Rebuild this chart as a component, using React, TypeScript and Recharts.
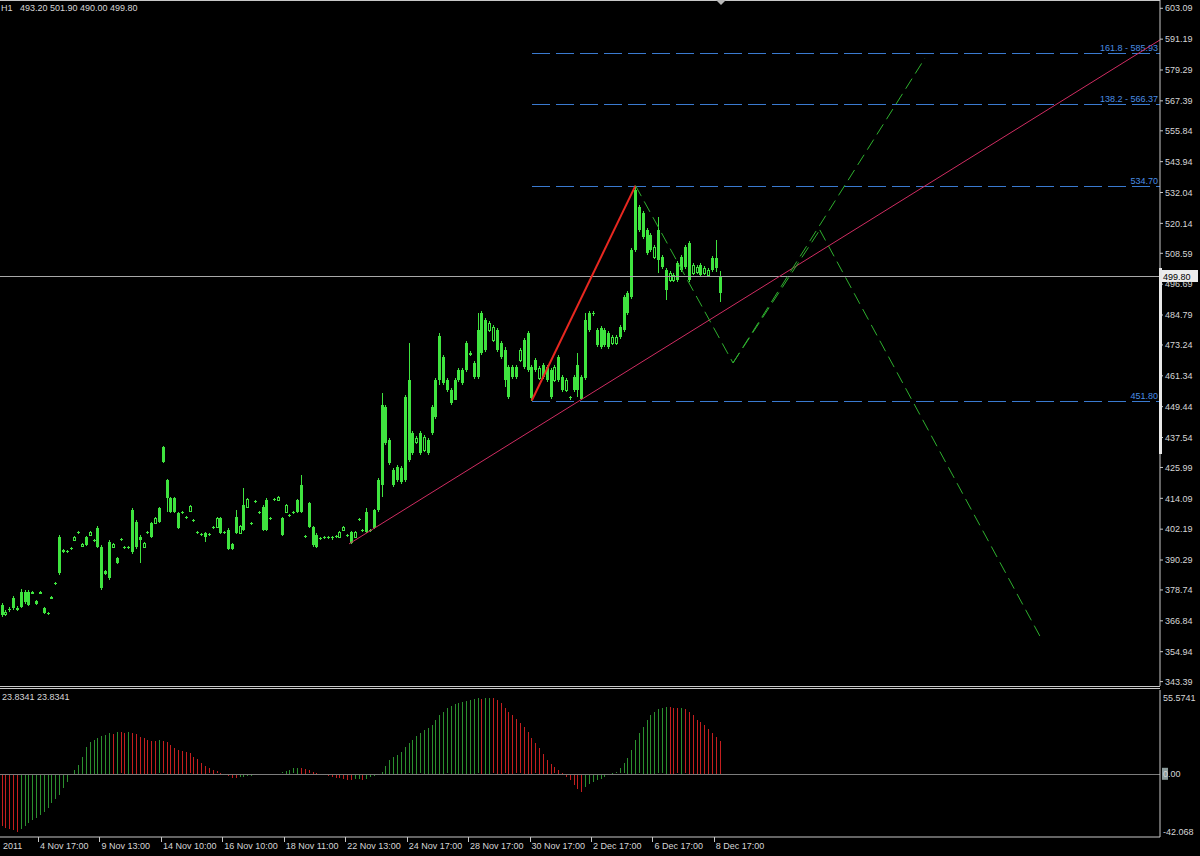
import React from 'react';
import { ComposedChart, BarChart, Bar, XAxis, YAxis, ReferenceLine } from 'recharts';

// hourly candles (bar index = position in the arrays)
const highs = [
  373.7, 371.1, 372.2, 376.4, 372.6, 379.1, 378.7, 378.7, 378.3, 374.9,
  378.3, 372.2, 370.2, 376.4, 381.8, 399.9, 394.5, 394.2, 395.3, 399.6,
  401.5, 396.9, 399.6, 401.5, 398.4, 403.4, 396.1, 386.4, 398.0, 396.9,
  391.5, 398.8, 395.7, 395.7, 410.4, 405.7, 399.9, 397.2, 401.5, 405.0,
  406.9, 410.7, 434.3, 421.5, 414.6, 414.6, 408.8, 409.2, 407.3, 411.5,
  406.1, 401.5, 400.7, 401.1, 400.7, 403.4, 406.9, 406.9, 401.5, 402.7,
  396.9, 409.6, 403.8, 418.1, 414.2, 405.0, 413.4, 409.2, 411.5, 414.2,
  406.9, 414.2, 415.0, 406.9, 411.9, 408.0, 409.2, 413.8, 423.1, 399.9,
  412.7, 403.4, 400.7, 399.2, 399.6, 399.6, 399.6, 399.9, 401.5, 403.4,
  400.3, 401.5, 401.5, 406.5, 402.3, 410.4, 402.3, 410.0, 421.9, 454.7,
  450.1, 437.4, 425.8, 426.9, 426.5, 453.9, 474.0, 440.1, 438.1, 440.1,
  438.5, 437.4, 450.1, 460.5, 477.9, 469.4, 460.5, 456.6, 460.5, 464.4,
  464.4, 474.8, 470.9, 467.1, 485.6, 486.3, 483.6, 482.5, 480.9, 479.8,
  474.8, 472.5, 465.5, 465.5, 465.5, 472.1, 475.9, 478.6, 465.5, 468.2,
  465.1, 466.3, 465.5, 464.4, 465.5, 469.4, 461.7, 460.5, 453.6, 461.7,
  470.1, 461.7, 485.6, 486.3, 486.3, 479.8, 480.6, 479.8, 478.6, 477.1,
  477.1, 480.9, 492.5, 494.1, 510.6, 534.7, 527.2, 524.9, 518.4, 516.4,
  511.8, 522.6, 507.9, 502.9, 501.8, 501.0, 505.6, 507.9, 511.8, 513.3,
  504.9, 504.1, 504.9, 503.7, 502.9, 507.6, 513.7, 501.9,
];

const lows = [
  368.3, 368.7, 370.2, 371.0, 370.6, 371.8, 373.3, 372.6, 377.2, 372.9,
  377.2, 369.5, 369.1, 375.3, 380.7, 384.5, 393.0, 393.0, 394.2, 397.6,
  400.3, 395.3, 395.7, 399.6, 397.2, 394.9, 378.7, 384.5, 382.6, 394.9,
  388.8, 397.6, 394.5, 394.5, 392.6, 394.5, 389.1, 394.9, 400.3, 398.8,
  404.2, 404.6, 427.7, 408.8, 408.4, 408.4, 402.3, 408.0, 406.1, 408.8,
  405.0, 400.3, 399.6, 397.2, 399.6, 402.3, 402.7, 400.3, 400.3, 394.2,
  394.2, 400.3, 400.3, 401.5, 410.4, 403.8, 412.3, 408.0, 401.5, 401.5,
  405.7, 413.1, 413.1, 399.6, 408.4, 406.9, 408.0, 408.4, 408.4, 398.8,
  402.7, 395.3, 394.9, 398.0, 398.4, 398.4, 398.0, 398.8, 398.8, 401.5,
  399.2, 396.5, 398.8, 405.3, 401.1, 400.7, 401.1, 402.3, 408.8, 414.6,
  434.7, 426.9, 418.5, 420.4, 419.6, 420.4, 428.1, 430.8, 435.0, 430.8,
  432.0, 430.8, 438.5, 444.7, 457.8, 457.8, 455.1, 450.1, 452.2, 459.0,
  457.8, 462.8, 469.0, 460.1, 460.1, 469.4, 470.5, 478.3, 474.4, 470.5,
  467.8, 457.0, 452.4, 460.1, 460.1, 466.7, 464.0, 462.8, 451.8, 462.8,
  459.7, 460.1, 459.0, 452.4, 459.0, 459.0, 455.1, 455.1, 452.0, 455.1,
  453.2, 452.0, 459.7, 478.3, 484.4, 472.5, 471.7, 472.5, 471.7, 473.2,
  473.2, 475.6, 478.3, 484.8, 490.9, 509.1, 516.8, 514.1, 507.9, 509.1,
  506.4, 501.0, 502.5, 490.6, 497.5, 497.5, 497.5, 501.4, 502.5, 497.5,
  500.2, 500.6, 499.5, 500.2, 499.5, 501.4, 501.4, 490.0,
];

const opens = [
  369.1, 370.2, 371.0, 371.8, 371.8, 372.2, 374.1, 372.9, 377.9, 373.3,
  377.9, 369.9, 369.5, 376.0, 381.0, 385.3, 393.4, 393.4, 394.5, 399.2,
  400.7, 396.5, 396.1, 401.1, 397.6, 395.3, 379.5, 384.9, 383.4, 396.5,
  389.1, 398.0, 394.9, 394.9, 393.4, 395.3, 398.0, 396.9, 400.7, 399.2,
  406.5, 405.0, 428.1, 414.2, 408.8, 408.8, 402.7, 408.4, 406.5, 411.1,
  405.3, 400.7, 399.9, 399.2, 399.9, 402.7, 406.5, 400.7, 400.7, 394.5,
  394.5, 400.7, 403.4, 401.9, 413.8, 404.2, 412.7, 408.4, 401.9, 401.9,
  406.1, 413.4, 414.6, 399.9, 411.5, 407.3, 408.4, 408.8, 408.8, 399.2,
  403.0, 396.1, 395.3, 398.4, 398.8, 398.8, 398.8, 399.2, 401.1, 403.0,
  399.6, 396.9, 401.1, 405.7, 401.5, 401.1, 401.5, 402.7, 409.6, 419.2,
  435.4, 427.7, 419.2, 421.2, 420.4, 421.2, 428.9, 431.6, 437.4, 431.6,
  437.7, 431.6, 439.3, 445.4, 459.7, 458.6, 455.9, 450.8, 452.0, 459.7,
  458.6, 463.6, 470.1, 460.9, 460.9, 470.1, 471.3, 481.7, 480.2, 471.3,
  468.6, 459.7, 453.2, 460.9, 460.9, 471.3, 464.7, 463.6, 452.8, 463.6,
  464.4, 460.9, 459.7, 453.2, 464.7, 459.7, 455.9, 459.7, 452.8, 455.9,
  455.9, 452.4, 460.5, 479.0, 485.2, 473.2, 472.5, 473.2, 472.5, 476.3,
  476.3, 476.3, 479.0, 485.6, 491.7, 509.9, 517.6, 514.9, 508.7, 509.9,
  511.0, 506.0, 503.3, 494.4, 501.0, 500.2, 498.3, 502.2, 503.3, 498.3,
  504.1, 503.3, 500.2, 502.9, 502.2, 502.2, 502.9, 493.2,
];

const closes = [
  372.9, 369.5, 371.4, 375.6, 371.4, 377.9, 377.9, 377.9, 377.6, 374.5,
  377.6, 371.8, 369.9, 375.6, 381.4, 399.2, 394.2, 393.8, 394.9, 398.0,
  401.1, 395.7, 399.2, 399.9, 398.0, 402.7, 395.3, 386.1, 397.2, 395.3,
  391.1, 398.4, 395.3, 395.3, 409.6, 405.0, 399.2, 395.3, 401.1, 404.6,
  404.6, 410.4, 433.9, 421.2, 414.2, 414.2, 408.4, 408.8, 406.9, 409.2,
  405.7, 401.1, 400.3, 400.7, 400.3, 403.0, 403.0, 406.5, 401.1, 401.9,
  396.5, 406.9, 400.7, 411.5, 410.7, 404.6, 413.1, 408.8, 410.7, 413.4,
  406.5, 413.8, 413.4, 406.5, 408.8, 407.6, 408.8, 413.4, 419.2, 399.6,
  412.3, 403.0, 399.9, 398.8, 399.2, 399.2, 399.2, 399.6, 399.2, 401.9,
  399.9, 401.1, 399.2, 406.1, 401.9, 408.8, 401.9, 409.6, 421.2, 450.1,
  449.3, 436.6, 425.0, 426.2, 425.8, 453.2, 459.7, 439.3, 435.8, 439.3,
  432.7, 436.6, 449.3, 459.7, 476.7, 468.6, 459.7, 455.9, 459.7, 463.6,
  463.6, 474.0, 469.8, 466.3, 479.0, 485.6, 482.9, 479.0, 475.2, 479.0,
  474.0, 471.3, 464.7, 464.7, 464.7, 467.4, 475.2, 477.9, 464.7, 467.4,
  460.5, 465.5, 464.7, 463.6, 459.7, 468.6, 460.9, 455.9, 453.2, 460.9,
  465.5, 460.9, 482.9, 485.6, 485.6, 479.0, 479.8, 479.0, 477.9, 474.0,
  474.0, 480.2, 491.7, 493.3, 509.9, 533.0, 526.4, 524.1, 517.6, 515.7,
  507.2, 517.6, 507.2, 502.2, 498.3, 498.3, 504.9, 507.2, 511.0, 512.6,
  501.0, 501.4, 504.1, 501.0, 500.2, 506.8, 506.8, 499.8,
];

// oscillator histogram under the price pane
const osc = [
  -38, -39, -40, -41, -42.068, -40.0, -38.0, -35.7, -33.6, -32.0,
  -30.0, -28.0, -25.0, -21.5, -18.5, -15.5, -10.5, -6.0, -1.0, 3.0,
  6.5, 12.5, 19.8, 23.4, 25.0, 26.2, 27.5, 28.6, 29.6, 29.2,
  30.5, 30.2, 29.9, 30.8, 30.0, 29.0, 27.0, 25.9, 24.6, 24.1,
  23.8, 24.3, 23.6, 23.0, 21.0, 18.6, 17.3, 16.8, 16.1, 14.9,
  12.5, 11.0, 8.1, 6.0, 4.0, 3.0, 1.7, 0.8, 0.2, -1.5,
  -2.8, -3.2, -2.5, -2.0, -1.6, -1.2, -1.0, -0.8, -0.6, -0.4,
  -0.3, -0.2, 0.2, 1.0, 2.0, 3.0, 4.0, 4.5, 4.2, 3.5,
  2.5, 1.5, 0.5, -0.3, -0.8, -1.5, -2.2, -2.8, -3.2, -3.8,
  -4.2, -4.6, -4.0, -3.6, -4.3, -3.5, -2.5, -1.5, -0.5, 1.5,
  5.7, 10.0, 12.5, 13.7, 16.1, 19.8, 22.2, 24.6, 27.5, 29.5,
  31.9, 33.2, 35.6, 39.2, 42.9, 45.3, 47.7, 49.4, 50.9, 51.8,
  52.5, 53.3, 53.8, 54.3, 55.0, 54.7, 55.2, 55.5741, 55.0, 53.8,
  51.4, 47.7, 45.3, 42.9, 39.7, 36.8, 34.3, 30.7, 25.9, 22.2,
  18.6, 14.4, 10.0, 7.1, 4.7, 2.8, 0.8, -2.0, -4.5, -8.2,
  -10.6, -13.0, -9.4, -7.4, -5.7, -4.5, -3.3, -2.1, -0.9, 0.3,
  1.0, 4.0, 7.6, 11.3, 17.3, 24.6, 29.5, 34.3, 39.2, 42.9,
  45.3, 47.0, 47.7, 48.9, 48.7, 48.2, 47.7, 47.9, 47.0, 45.3,
  42.9, 39.2, 38.0, 35.6, 32.5, 30.0, 27.0, 23.8341,
];

const priceTicks = [
  603.09, 591.19, 579.29, 567.39, 555.84, 543.94, 532.04, 520.14, 508.59, 496.69, 484.79, 473.24,
  461.34, 449.44, 437.54, 425.99, 414.09, 402.19, 390.29, 378.74, 366.84, 354.94, 343.39,
];
const oscTicks = [55.5741, 0, -42.068];

const timeLabels = [
  '2011', '4 Nov 17:00', '9 Nov 13:00', '14 Nov 10:00', '16 Nov 10:00', '18 Nov 11:00', '22 Nov 13:00',
  '24 Nov 17:00', '28 Nov 17:00', '30 Nov 17:00', '2 Dec 17:00', '6 Dec 17:00', '8 Dec 17:00',
];
const timeTickBars = [-0.24, 9.4, 25.4, 41.4, 57.4, 73.4, 89.4, 105.4, 121.4, 137.4, 153.4, 169.4, 185.4];

// drawn objects
const fibAnchor = [{ bar: 138, price: 451.8 }, { bar: 165, price: 534.7 }];
const fibRatios = [0, 1, 1.382, 1.618];
const trendLine = [{ bar: 90.4, price: 396.5 }, { bar: 301.6, price: 590.9 }];
const projection = [
  { bar: 165, price: 534.7 },
  { bar: 190.4, price: 466.3 },
  { bar: 213, price: 517.6 },
  { bar: 270.3, price: 361.0 },
];
const projectionUp = [{ bar: 190.4, price: 466.3 }, { bar: 240.4, price: 583.9 }];
const lastPrice = 499.8;

const X_DOMAIN: [number, number] = [-0.5, 301.6];
const FONT = "'Liberation Sans', Arial, sans-serif";
const CANDLE = '#3fe43f';
const AXIS = '#c8c8c8';
const TEXT = '#d6d6d6';
const FIB = '#3a7ad0';

const rows = highs.map((h, i) => ({
  bar: i,
  range: [lows[i], h],
  high: h,
  low: lows[i],
  open: opens[i],
  close: closes[i],
}));

const oscRows = osc.map((v, i) => ({
  bar: i,
  v,
  up: i > 0 && v >= osc[i - 1],
}));

const Candle = (props: any) => {
  const { x, y, width, height, payload } = props;
  if (x == null || !payload) return null;
  const top = Math.min(y, y + height);
  const bottom = Math.max(y, y + height);
  const { high, low, open, close } = payload;
  const span = high - low || 1;
  const py = (p: number) => top + ((high - p) / span) * (bottom - top);
  const cx = Math.round(x + width / 2);
  const bTop = Math.round(py(Math.max(open, close)));
  const bBot = Math.round(py(Math.min(open, close)));
  const bull = close >= open;
  return (
    <g shapeRendering="crispEdges">
      <line x1={cx + 0.5} x2={cx + 0.5} y1={Math.round(top)} y2={Math.round(bottom)} stroke={CANDLE} strokeWidth={1} />
      {bull ? (
        <rect x={cx - 1} y={bTop} width={3} height={Math.max(1, bBot - bTop)} fill={CANDLE} />
      ) : (
        <rect x={cx - 0.5} y={bTop + 0.5} width={2} height={Math.max(1, bBot - bTop)} fill="#000" stroke={CANDLE} strokeWidth={1} />
      )}
    </g>
  );
};

const OscBar = (props: any) => {
  const { x, y, width, height, payload } = props;
  if (x == null || !payload) return null;
  const top = Math.min(y, y + height);
  const h = Math.abs(height);
  const cx = Math.round(x + width / 2);
  return (
    <rect
      x={cx}
      y={Math.round(top)}
      width={1}
      height={Math.max(Math.round(h), 1)}
      fill={payload.up ? '#2b8f2e' : '#c41f1f'}
      shapeRendering="crispEdges"
    />
  );
};

// horizontal reference lines snapped to whole pixels
const FlatLine = (props: any) => {
  const { x1, x2, y1, stroke, strokeDasharray } = props;
  if (x1 == null || y1 == null) return null;
  const y = Math.round(y1) + 0.5;
  return <line x1={x1} x2={x2} y1={y} y2={y} stroke={stroke} strokeWidth={1} strokeDasharray={strokeDasharray} shapeRendering="crispEdges" />;
};

const FibLabel = (props: any) => {
  const { viewBox, text } = props;
  if (!viewBox) return null;
  return (
    <text x={viewBox.x + viewBox.width - 2} y={Math.round(viewBox.y) - 2} textAnchor="end" fill="#4a8ee4" fontSize={9} fontFamily={FONT}>
      {text}
    </text>
  );
};

const PriceTag = (props: any) => {
  const { viewBox, text } = props;
  if (!viewBox) return null;
  const x = viewBox.x + viewBox.width;
  const y = Math.round(viewBox.y);
  return (
    <g>
      <rect x={x} y={y - 6} width={38} height={12} fill="#ececec" />
      <text x={x + 3} y={y + 3.5} fill="#000" fontSize={9} fontFamily={FONT}>
        {text}
      </text>
    </g>
  );
};

const OscTick = (props: any) => {
  const { x, y, payload } = props;
  const v = payload.value;
  const label = v === 0 ? '0.00' : String(v);
  return (
    <g>
      {v === 0 && <rect x={x - 1} y={y - 6} width={6} height={12} fill="#8c9c9c" />}
      <text x={x} y={y} dy="0.355em" fill={TEXT} fontSize={9} fontFamily={FONT}>
        {label}
      </text>
    </g>
  );
};

const TimeTick = (props: any) => {
  const { x, y, payload } = props;
  const idx = timeTickBars.indexOf(payload.value);
  return (
    <g>
      {idx > 0 && (
        <line x1={Math.round(x) + 0.5} x2={Math.round(x) + 0.5} y1={y - 2} y2={y + 3} stroke={AXIS} shapeRendering="crispEdges" />
      )}
      <text x={x + 2} y={y + 10} fill={TEXT} fontSize={9} fontFamily={FONT}>
        {timeLabels[idx]}
      </text>
    </g>
  );
};

export default function App() {
  const [lo, hi] = [fibAnchor[0].price, fibAnchor[1].price];
  const fibs = fibRatios.map((r) => {
    const p = lo + r * (hi - lo);
    return { p, text: r > 1 ? `${(r * 100).toFixed(1)} - ${p.toFixed(2)}` : p.toFixed(2) };
  });

  return (
    <div style={{ position: 'absolute', left: 0, top: 0, width: 1200, height: 856, background: '#000', overflow: 'hidden', fontFamily: FONT }}>
      <style>{'body{margin:0;background:#000}'}</style>

      <div style={{ position: 'absolute', left: 0, top: 0 }}>
        <ComposedChart width={1200} height={686} data={rows} margin={{ top: 0, right: 0, left: 0, bottom: 0 }}>
          <XAxis dataKey="bar" type="number" domain={X_DOMAIN} hide allowDataOverflow />
          <YAxis
            orientation="right"
            width={40}
            type="number"
            domain={[341.7, 606.29]}
            ticks={priceTicks}
            interval={0}
            allowDataOverflow
            axisLine={{ stroke: AXIS }}
            tickLine={{ stroke: AXIS }}
            tickSize={3}
            tickMargin={2}
            tick={{ fill: TEXT, fontSize: 9, fontFamily: FONT }}
          />
          <Bar dataKey="range" barSize={3} shape={<Candle />} isAnimationActive={false} />
          {fibs.map((f) => (
            <ReferenceLine
              key={f.text}
              segment={[{ x: fibAnchor[0].bar, y: f.p }, { x: X_DOMAIN[1], y: f.p }]}
              stroke={FIB}
              strokeDasharray="18 6"
              shape={FlatLine}
              ifOverflow="visible"
              label={<FibLabel text={f.text} />}
            />
          ))}
          <ReferenceLine
            y={lastPrice}
            stroke="#a8a8a8"
            shape={FlatLine}
            label={<PriceTag text={lastPrice.toFixed(2)} />}
          />
          <ReferenceLine
            segment={trendLine.map((p) => ({ x: p.bar, y: p.price }))}
            stroke="#d02c62"
            ifOverflow="visible"
          />
          <ReferenceLine
            segment={fibAnchor.map((p) => ({ x: p.bar, y: p.price }))}
            stroke="#e82820"
            strokeWidth={2}
            ifOverflow="visible"
          />
          {projection.slice(1).map((p, k) => (
            <ReferenceLine
              key={`pj${k}`}
              segment={[{ x: projection[k].bar, y: projection[k].price }, { x: p.bar, y: p.price }]}
              stroke="#2eb02e"
              strokeDasharray="12 6"
              ifOverflow="visible"
            />
          ))}
          <ReferenceLine
            segment={projectionUp.map((p) => ({ x: p.bar, y: p.price }))}
            stroke="#2eb02e"
            strokeDasharray="12 6"
            ifOverflow="visible"
          />
        </ComposedChart>
      </div>

      <div style={{ position: 'absolute', left: 0, top: 688 }}>
        <BarChart width={1200} height={168} data={oscRows} margin={{ top: 2, right: 0, left: 0, bottom: 0 }}>
          <XAxis
            dataKey="bar"
            type="number"
            domain={X_DOMAIN}
            allowDataOverflow
            ticks={timeTickBars}
            interval={0}
            height={19}
            axisLine={{ stroke: AXIS }}
            tickLine={false}
            tickSize={0}
            tickMargin={2}
            tick={<TimeTick />}
          />
          <YAxis
            orientation="right"
            width={40}
            type="number"
            domain={[-46.06, 61.08]}
            ticks={oscTicks}
            interval={0}
            allowDataOverflow
            axisLine={{ stroke: AXIS }}
            tickLine={false}
            tickSize={0}
            tickMargin={3}
            tick={<OscTick />}
          />
          <ReferenceLine y={0} stroke="#7c7c7c" shape={FlatLine} />
          <Bar dataKey="v" barSize={1} shape={<OscBar />} isAnimationActive={false} />
        </BarChart>
      </div>

      {/* pane frames and MT4 furniture */}
      <div style={{ position: 'absolute', left: 0, top: 0, width: 1160, height: 1, background: AXIS }} />
      <div style={{ position: 'absolute', left: 0, top: 686, width: 1160, height: 1, background: AXIS }} />
      <div style={{ position: 'absolute', left: 0, top: 688, width: 1160, height: 1, background: AXIS }} />
      <div style={{ position: 'absolute', left: 1159, top: 268, width: 3, height: 186, background: '#e8e8e8' }} />
      <div style={{ position: 'absolute', left: 716, top: 0, width: 0, height: 0, borderLeft: '5px solid transparent', borderRight: '5px solid transparent', borderTop: '5px solid #b8b8b8' }} />
      <div style={{ position: 'absolute', left: 1, top: 3, fontSize: 9, lineHeight: '11px', color: TEXT, whiteSpace: 'pre' }}>
        {'H1   493.20 501.90 490.00 499.80'}
      </div>
      <div style={{ position: 'absolute', left: 2, top: 692, fontSize: 9, lineHeight: '11px', color: TEXT, whiteSpace: 'pre' }}>
        {'23.8341 23.8341'}
      </div>
    </div>
  );
}
